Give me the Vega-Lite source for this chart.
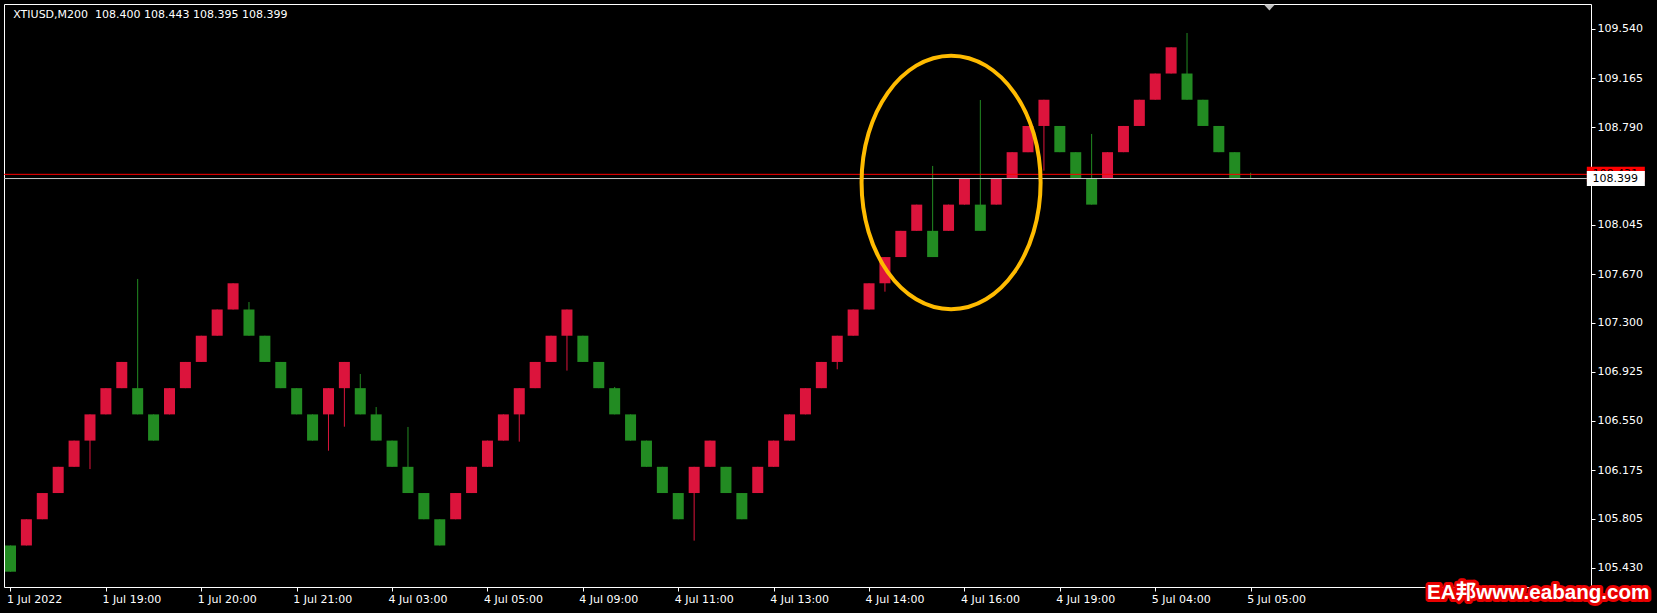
{
  "$schema": "https://vega.github.io/schema/vega-lite/v6.json",
  "width": 1587,
  "height": 583,
  "autosize": {"type": "none"},
  "padding": {"left": 4, "top": 4, "right": 66, "bottom": 26},
  "background": "black",
  "view": {"stroke": "white", "strokeWidth": 1, "fill": "black"},
  "config": {"font": "DejaVu Sans"},
  "resolve": {"axis": {"x": "independent", "y": "independent"}},
  "datasets": {
    "bricks": [
      {"i":0,"o":105.6,"h":105.6,"l":105.4,"c":105.4},
      {"i":1,"o":105.6,"h":105.8,"l":105.6,"c":105.8},
      {"i":2,"o":105.8,"h":106.0,"l":105.8,"c":106.0},
      {"i":3,"o":106.0,"h":106.2,"l":106.0,"c":106.2},
      {"i":4,"o":106.2,"h":106.4,"l":106.2,"c":106.4},
      {"i":5,"o":106.4,"h":106.6,"l":106.183,"c":106.6},
      {"i":6,"o":106.6,"h":106.8,"l":106.6,"c":106.8},
      {"i":7,"o":106.8,"h":107.0,"l":106.8,"c":107.0},
      {"i":8,"o":106.8,"h":107.633,"l":106.6,"c":106.6},
      {"i":9,"o":106.6,"h":106.6,"l":106.4,"c":106.4},
      {"i":10,"o":106.6,"h":106.8,"l":106.6,"c":106.8},
      {"i":11,"o":106.8,"h":107.0,"l":106.8,"c":107.0},
      {"i":12,"o":107.0,"h":107.2,"l":107.0,"c":107.2},
      {"i":13,"o":107.2,"h":107.4,"l":107.2,"c":107.4},
      {"i":14,"o":107.4,"h":107.6,"l":107.4,"c":107.6},
      {"i":15,"o":107.4,"h":107.457,"l":107.2,"c":107.2},
      {"i":16,"o":107.2,"h":107.2,"l":107.0,"c":107.0},
      {"i":17,"o":107.0,"h":107.0,"l":106.8,"c":106.8},
      {"i":18,"o":106.8,"h":106.8,"l":106.6,"c":106.6},
      {"i":19,"o":106.6,"h":106.6,"l":106.4,"c":106.4},
      {"i":20,"o":106.6,"h":106.8,"l":106.323,"c":106.8},
      {"i":21,"o":106.8,"h":107.0,"l":106.506,"c":107.0},
      {"i":22,"o":106.8,"h":106.908,"l":106.6,"c":106.6},
      {"i":23,"o":106.6,"h":106.656,"l":106.4,"c":106.4},
      {"i":24,"o":106.4,"h":106.4,"l":106.2,"c":106.2},
      {"i":25,"o":106.2,"h":106.504,"l":106.0,"c":106.0},
      {"i":26,"o":106.0,"h":106.0,"l":105.8,"c":105.8},
      {"i":27,"o":105.8,"h":105.8,"l":105.6,"c":105.6},
      {"i":28,"o":105.8,"h":106.0,"l":105.8,"c":106.0},
      {"i":29,"o":106.0,"h":106.2,"l":106.0,"c":106.2},
      {"i":30,"o":106.2,"h":106.4,"l":106.2,"c":106.4},
      {"i":31,"o":106.4,"h":106.6,"l":106.4,"c":106.6},
      {"i":32,"o":106.6,"h":106.8,"l":106.392,"c":106.8},
      {"i":33,"o":106.8,"h":107.0,"l":106.8,"c":107.0},
      {"i":34,"o":107.0,"h":107.2,"l":107.0,"c":107.2},
      {"i":35,"o":107.2,"h":107.4,"l":106.934,"c":107.4},
      {"i":36,"o":107.2,"h":107.2,"l":107.0,"c":107.0},
      {"i":37,"o":107.0,"h":107.0,"l":106.8,"c":106.8},
      {"i":38,"o":106.8,"h":106.809,"l":106.6,"c":106.6},
      {"i":39,"o":106.6,"h":106.6,"l":106.4,"c":106.4},
      {"i":40,"o":106.4,"h":106.4,"l":106.2,"c":106.2},
      {"i":41,"o":106.2,"h":106.2,"l":106.0,"c":106.0},
      {"i":42,"o":106.0,"h":106.0,"l":105.8,"c":105.8},
      {"i":43,"o":106.0,"h":106.2,"l":105.637,"c":106.2},
      {"i":44,"o":106.2,"h":106.4,"l":106.2,"c":106.4},
      {"i":45,"o":106.2,"h":106.2,"l":106.0,"c":106.0},
      {"i":46,"o":106.0,"h":106.0,"l":105.8,"c":105.8},
      {"i":47,"o":106.0,"h":106.2,"l":106.0,"c":106.2},
      {"i":48,"o":106.2,"h":106.4,"l":106.2,"c":106.4},
      {"i":49,"o":106.4,"h":106.6,"l":106.4,"c":106.6},
      {"i":50,"o":106.6,"h":106.8,"l":106.6,"c":106.8},
      {"i":51,"o":106.8,"h":107.0,"l":106.8,"c":107.0},
      {"i":52,"o":107.0,"h":107.2,"l":106.944,"c":107.2},
      {"i":53,"o":107.2,"h":107.4,"l":107.2,"c":107.4},
      {"i":54,"o":107.4,"h":107.6,"l":107.4,"c":107.6},
      {"i":55,"o":107.6,"h":107.8,"l":107.536,"c":107.8},
      {"i":56,"o":107.8,"h":108.0,"l":107.8,"c":108.0},
      {"i":57,"o":108.0,"h":108.2,"l":108.0,"c":108.2},
      {"i":58,"o":108.0,"h":108.495,"l":107.8,"c":107.8},
      {"i":59,"o":108.0,"h":108.2,"l":108.0,"c":108.2},
      {"i":60,"o":108.2,"h":108.4,"l":108.2,"c":108.4},
      {"i":61,"o":108.2,"h":108.998,"l":108.0,"c":108.0},
      {"i":62,"o":108.2,"h":108.4,"l":108.2,"c":108.4},
      {"i":63,"o":108.4,"h":108.6,"l":108.4,"c":108.6},
      {"i":64,"o":108.6,"h":108.8,"l":108.6,"c":108.8},
      {"i":65,"o":108.8,"h":109.0,"l":108.459,"c":109.0},
      {"i":66,"o":108.8,"h":108.8,"l":108.6,"c":108.6},
      {"i":67,"o":108.6,"h":108.6,"l":108.4,"c":108.4},
      {"i":68,"o":108.4,"h":108.739,"l":108.2,"c":108.2},
      {"i":69,"o":108.4,"h":108.6,"l":108.4,"c":108.6},
      {"i":70,"o":108.6,"h":108.8,"l":108.6,"c":108.8},
      {"i":71,"o":108.8,"h":109.0,"l":108.8,"c":109.0},
      {"i":72,"o":109.0,"h":109.2,"l":109.0,"c":109.2},
      {"i":73,"o":109.2,"h":109.4,"l":109.2,"c":109.4},
      {"i":74,"o":109.2,"h":109.509,"l":109.0,"c":109.0},
      {"i":75,"o":109.0,"h":109.0,"l":108.8,"c":108.8},
      {"i":76,"o":108.8,"h":108.8,"l":108.6,"c":108.6},
      {"i":77,"o":108.6,"h":108.6,"l":108.4,"c":108.4},
      {"i":78,"o":108.4,"h":108.443,"l":108.395,"c":108.399}
    ],
    "levels": [
      {"kind":"ask","price":108.431,"label":"108.431"},
      {"kind":"bid","price":108.399,"label":"108.399"}
    ]
  },
  "layer": [
    {
      "data": {"name": "bricks"},
      "mark": {"type": "rule", "clip": true, "strokeWidth": 1, "opacity": 1},
      "encoding": {
        "x": {"field": "i", "type": "quantitative",
          "scale": {"domain": [-0.09375, 99.09375], "nice": false, "zero": false},
          "axis": {"orient": "bottom", "values": [0,6,12,18,24,30,36,42,48,54,60,66,72,78],
            "labelExpr": "['1 Jul 2022','1 Jul 19:00','1 Jul 20:00','1 Jul 21:00','4 Jul 03:00','4 Jul 05:00','4 Jul 09:00','4 Jul 11:00','4 Jul 13:00','4 Jul 14:00','4 Jul 16:00','4 Jul 19:00','5 Jul 04:00','5 Jul 05:00'][round(datum.value/6)]",
            "title": null, "grid": false, "domain": false, "ticks": true, "tickSize": 4, "tickColor": "white", "tickWidth": 1,
            "labelColor": "white", "labelFont": "DejaVu Sans", "labelFontSize": 11, "labelAlign": "left", "labelBaseline": "top",
            "labelPadding": 2, "labelFlush": false, "labelOverlap": false, "labelBound": false, "labelOffset": -4}},
        "y": {"field": "l", "type": "quantitative",
          "scale": {"domain": [105.2833, 109.7303], "nice": false, "zero": false},
          "axis": {"orient": "right", "values": [109.54,109.165,108.79,108.045,107.67,107.3,106.925,106.55,106.175,105.805,105.43],
            "format": ".3f", "title": null, "grid": false, "domain": false, "tickSize": 4, "tickColor": "white", "tickWidth": 1,
            "labelColor": "white", "labelFont": "DejaVu Sans", "labelFontSize": 11, "labelPadding": 2,
            "labelFlush": false, "labelOverlap": false, "labelBound": false, "labelBaseline": "middle"}},
        "y2": {"field": "h"},
        "color": {"condition": {"test": "datum.c < datum.o", "value": "#228B22"}, "value": "#DC143C"}
      }
    },
    {
      "data": {"name": "bricks"},
      "mark": {"type": "bar", "clip": true, "width": 11, "opacity": 1},
      "encoding": {
        "x": {"field": "i", "type": "quantitative", "axis": null},
        "y": {"field": "o", "type": "quantitative", "axis": null},
        "y2": {"field": "c"},
        "color": {"condition": {"test": "datum.c < datum.o", "value": "#228B22"}, "value": "#DC143C"}
      }
    },
    {
      "data": {"name": "levels"},
      "mark": {"type": "rule", "clip": true, "strokeWidth": 1, "opacity": 1},
      "encoding": {
        "y": {"field": "price", "type": "quantitative", "axis": null},
        "color": {"condition": {"test": "datum.kind == 'ask'", "value": "#FF0000"}, "value": "#C8C8C8"}
      }
    },
    {
      "data": {"values": [{"note": "highlight"}]},
      "mark": {"type": "point", "shape": "M -0.706 0 A 0.706 1 0 1 0 0.706 0 A 0.706 1 0 1 0 -0.706 0 Z",
        "size": 64313, "filled": false, "stroke": "#FFBB00", "strokeWidth": 4, "opacity": 1},
      "encoding": {
        "x": {"datum": 59.16, "type": "quantitative", "axis": null},
        "y": {"datum": 108.369, "type": "quantitative", "axis": null}
      }
    },
    {
      "data": {"name": "levels"},
      "transform": [{"filter": "datum.kind == 'ask'"}],
      "mark": {"type": "tick", "orient": "horizontal", "size": 58, "thickness": 15, "color": "#FF0000", "opacity": 1},
      "encoding": {
        "x": {"datum": 100.97, "type": "quantitative", "axis": null},
        "y": {"field": "price", "type": "quantitative", "axis": null}
      }
    },
    {
      "data": {"name": "levels"},
      "transform": [{"filter": "datum.kind == 'ask'"}],
      "mark": {"type": "text", "align": "left", "baseline": "middle", "font": "DejaVu Sans", "fontSize": 11, "color": "#000000", "opacity": 1},
      "encoding": {
        "x": {"datum": 99.5, "type": "quantitative", "axis": null},
        "y": {"field": "price", "type": "quantitative", "axis": null},
        "text": {"field": "label"}
      }
    },
    {
      "data": {"name": "levels"},
      "transform": [{"filter": "datum.kind == 'bid'"}],
      "mark": {"type": "tick", "orient": "horizontal", "size": 58, "thickness": 15, "color": "#FFFFFF", "opacity": 1},
      "encoding": {
        "x": {"datum": 100.97, "type": "quantitative", "axis": null},
        "y": {"field": "price", "type": "quantitative", "axis": null}
      }
    },
    {
      "data": {"name": "levels"},
      "transform": [{"filter": "datum.kind == 'bid'"}],
      "mark": {"type": "text", "align": "left", "baseline": "middle", "font": "DejaVu Sans", "fontSize": 11, "color": "#000000", "opacity": 1},
      "encoding": {
        "x": {"datum": 99.5, "type": "quantitative", "axis": null},
        "y": {"field": "price", "type": "quantitative", "axis": null},
        "text": {"field": "label"}
      }
    },
    {
      "data": {"values": [{"t": "XTIUSD,M200\u00a0 108.400 108.443 108.395 108.399"}]},
      "mark": {"type": "text", "align": "left", "baseline": "middle", "font": "DejaVu Sans", "fontSize": 11, "color": "#FFFFFF", "opacity": 1},
      "encoding": {
        "x": {"datum": 0.175, "type": "quantitative", "axis": null},
        "y": {"datum": 109.6464, "type": "quantitative", "axis": null},
        "text": {"field": "t"}
      }
    },
    {
      "data": {"values": [{"note": "shift"}]},
      "mark": {"type": "point", "shape": "M -1 -0.55 L 1 -0.55 L 0 0.55 Z", "size": 121, "filled": true, "color": "#C0C0C0", "opacity": 1},
      "encoding": {
        "x": {"datum": 79.18, "type": "quantitative", "axis": null},
        "y": {"datum": 109.7036, "type": "quantitative", "axis": null}
      }
    },
    {
      "data": {"values": [{"t": "EA邦www.eabang.com"}]},
      "mark": {"type": "text", "align": "center", "baseline": "alphabetic", "font": "Liberation Sans, Noto Sans CJK SC", "fontWeight": "bold", "fontSize": 20.6,
        "fill": "#E80000", "stroke": "#E80000", "strokeWidth": 6, "strokeJoin": "round", "opacity": 1},
      "encoding": {
        "x": {"datum": 96.09, "type": "quantitative", "axis": null},
        "y": {"datum": 105.192, "type": "quantitative", "axis": null},
        "text": {"field": "t"}
      }
    },
    {
      "data": {"values": [{"t": "EA邦www.eabang.com"}]},
      "mark": {"type": "text", "align": "center", "baseline": "alphabetic", "font": "Liberation Sans, Noto Sans CJK SC", "fontWeight": "bold", "fontSize": 20.6,
        "fill": "#FFFFFF", "opacity": 1},
      "encoding": {
        "x": {"datum": 96.09, "type": "quantitative", "axis": null},
        "y": {"datum": 105.192, "type": "quantitative", "axis": null},
        "text": {"field": "t"}
      }
    }
  ]
}
